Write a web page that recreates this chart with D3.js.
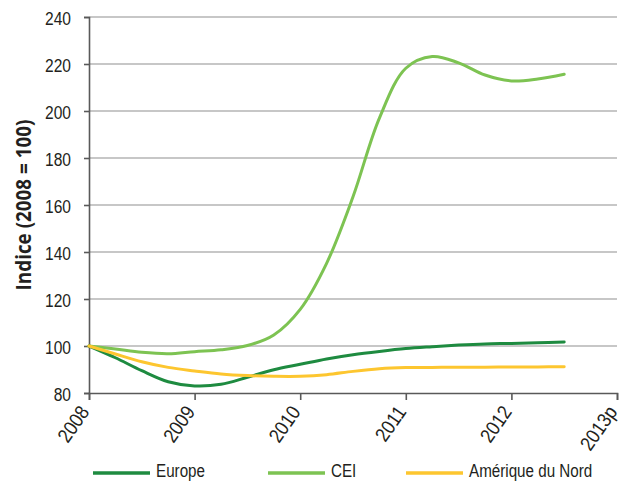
<!DOCTYPE html>
<html>
<head>
<meta charset="utf-8">
<script src="https://cdn.jsdelivr.net/npm/d3@7"></script>
<style>
  html, body { margin: 0; padding: 0; background: #fff; }
  svg { display: block; }
</style>
</head>
<body>
<svg id="chart" width="622" height="484"></svg>
<script>
// Quarterly index values (2008 = 100), 2008 Q1 through mid-2012
const periods = [2008, 2008.25, 2008.5, 2008.75, 2009, 2009.25, 2009.5, 2009.75,
                 2010, 2010.25, 2010.5, 2010.75, 2011, 2011.25, 2011.5, 2011.75,
                 2012, 2012.25, 2012.5];
const europe   = [100, 95.0, 89.5, 84.8, 83.0, 83.7, 86.7, 89.9,
                  92.2, 94.5, 96.3, 97.7, 98.9, 99.7, 100.4, 100.9,
                  101.1, 101.4, 101.7];
const cei      = [100, 98.7, 97.3, 96.7, 97.6, 98.4, 100.2, 104.7,
                  115.6, 135.2, 163.5, 197, 218.2, 223.2, 220.5, 215.3,
                  212.8, 213.6, 215.6];
const amerique = [100, 96.6, 93.3, 90.9, 89.4, 88.1, 87.4, 87.1,
                  87.1, 87.8, 89.2, 90.3, 90.8, 90.9, 91.0, 91.0,
                  91.1, 91.1, 91.2];

const yearTicks  = [2008, 2009, 2010, 2011, 2012, 2013];
const yearLabels = ["2008", "2009", "2010", "2011", "2012", "2013p"];
const yTicks     = [80, 100, 120, 140, 160, 180, 200, 220, 240];

const seriesNames  = ["Europe", "CEI", "Amérique du Nord"];
const seriesColors = ["#1e8b40", "#7dc352", "#fdc62f"];
const seriesValues = [europe, cei, amerique];

const labelFont = "'Liberation Sans', Arial, sans-serif";
const narrow = 0.8;

const svg = d3.select("#chart");
const plotLeft = 89, plotRight = 617, plotTop = 17, plotBottom = 393;

const x = d3.scaleLinear().domain([2008, 2013]).range([plotLeft, plotRight]);
const y = d3.scaleLinear().domain([80, 240]).range([plotBottom, plotTop]);

// Horizontal gridlines
svg.append("g")
  .selectAll("line")
  .data(yTicks.filter(v => v > 80))
  .join("line")
  .attr("x1", plotLeft).attr("x2", plotRight)
  .attr("y1", d => y(d)).attr("y2", d => y(d))
  .attr("stroke", "#b5b5b5").attr("stroke-width", 1.3);

// Y axis
const yAxis = svg.append("g")
  .attr("transform", `translate(${plotLeft},0)`)
  .call(d3.axisLeft(y).tickValues(yTicks).tickSize(5));
yAxis.select(".domain").attr("stroke", "#595959").attr("stroke-width", 1.6);
yAxis.selectAll(".tick line").attr("stroke", "#595959").attr("stroke-width", 1.6);
yAxis.selectAll(".tick text")
  .attr("x", null).attr("dy", "0.36em")
  .attr("transform", `translate(-18,1) scale(${narrow + 0.02},1)`)
  .attr("font-family", labelFont)
  .attr("font-size", 19).attr("fill", "#231f20");

// X axis
const xAxis = svg.append("g")
  .attr("transform", `translate(0,${plotBottom})`)
  .call(d3.axisBottom(x).tickValues(yearTicks).tickSize(7)
    .tickFormat((d, i) => yearLabels[i]));
xAxis.select(".domain").attr("stroke", "#595959").attr("stroke-width", 1.6);
xAxis.selectAll(".tick line").attr("stroke", "#595959").attr("stroke-width", 1.6);
xAxis.selectAll(".tick text")
  .attr("font-family", labelFont)
  .attr("font-size", 20).attr("fill", "#231f20")
  .attr("text-anchor", "end")
  .attr("x", 0).attr("y", 0).attr("dy", "0.35em")
  .attr("transform", "translate(-5,15) rotate(-55) scale(0.88,1)");

// Y axis title
svg.append("text")
  .attr("transform", "translate(31,205) rotate(-90) scale(0.92,1)")
  .attr("text-anchor", "middle")
  .attr("font-family", "'Open Sans', 'Liberation Sans', sans-serif")
  .attr("font-weight", "bold")
  .attr("font-size", 20.5)
  .attr("fill", "#231f20")
  .text("Indice (2008 = 100)");

// Series lines
const line = d3.line()
  .x((d, i) => x(periods[i]))
  .y(d => y(d))
  .curve(d3.curveCatmullRom.alpha(0.5));

svg.append("g")
  .selectAll("path")
  .data(seriesValues)
  .join("path")
  .attr("d", d => line(d))
  .attr("fill", "none")
  .attr("stroke", (d, i) => seriesColors[i])
  .attr("stroke-width", 3)
  .attr("stroke-linecap", "round");

// Legend
const legendX = [93, 268, 406];
const legend = svg.append("g")
  .selectAll("g")
  .data(seriesNames)
  .join("g")
  .attr("transform", (d, i) => `translate(${legendX[i]},473)`);
legend.append("line")
  .attr("x1", 0).attr("x2", 57)
  .attr("stroke", (d, i) => seriesColors[i])
  .attr("stroke-width", 3.5);
legend.append("text")
  .attr("transform", `translate(63,3.5) scale(${narrow},1)`)
  .attr("font-family", labelFont)
  .attr("font-size", 19).attr("fill", "#231f20")
  .text(d => d);
</script>
</body>
</html>
